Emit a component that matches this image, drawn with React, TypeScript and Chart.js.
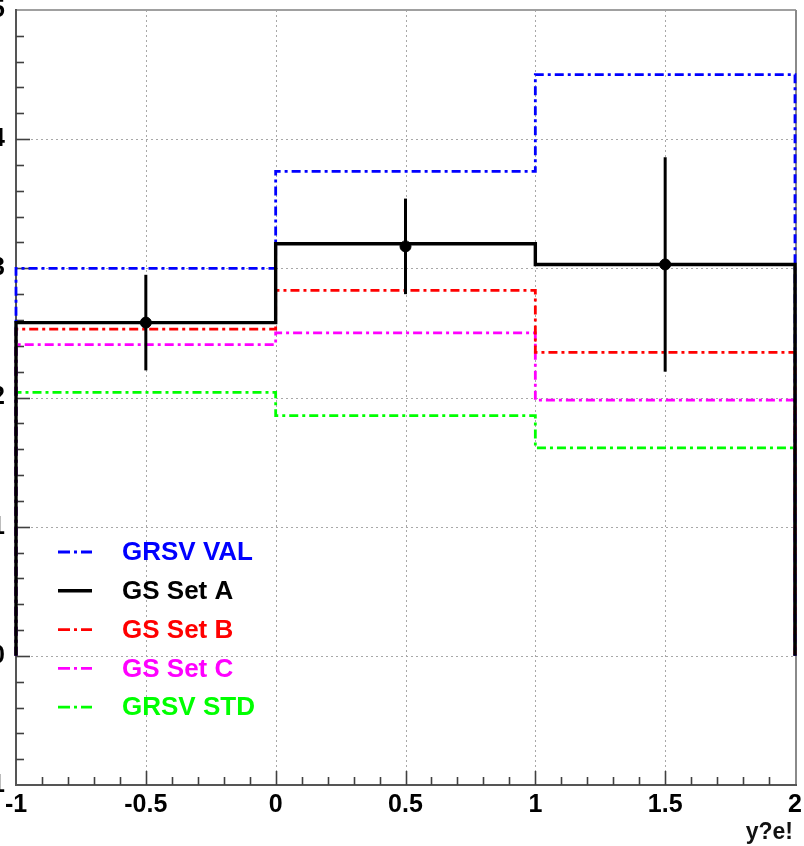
import { useEffect, useRef } from "react";
import { Chart, registerables } from "chart.js";

Chart.register(...registerables);

// Bin edges of the rapidity histograms and the values of each prediction
const binEdges = [-1, 0, 1, 2];
const grsvVal = [3.0, 3.75, 4.5];
const gsSetA = [2.58, 3.19, 3.03];
const gsSetB = [2.53, 2.83, 2.35];
const gsSetC = [2.41, 2.5, 1.98];
const grsvStd = [2.04, 1.86, 1.61];

// Measured points with symmetric errors
const dataX = [-0.5, 0.5, 1.5];
const dataY = [2.58, 3.17, 3.03];
const dataErr = [0.37, 0.37, 0.83];

// Axis ticks and titles
const xTickValues = [-1, -0.5, 0, 0.5, 1, 1.5, 2];
const yTickValues = [-1, 0, 1, 2, 3, 4, 5];
const xMinorStep = 0.1;
const yMinorStep = 0.2;
const xAxisTitle = "y?e!";

const seriesLabels = ["GRSV VAL", "GS Set A", "GS Set B", "GS Set C", "GRSV STD"];
const seriesValues = [grsvVal, gsSetA, gsSetB, gsSetC, grsvStd];

const seriesStyles = [
  { color: "#0000ff", dash: [9, 4, 3, 4], width: 2.8 },
  { color: "#000000", dash: [] as number[], width: 3.4 },
  { color: "#ff0000", dash: [9, 4, 3, 4], width: 2.8 },
  { color: "#ff00ff", dash: [9, 4, 3, 4], width: 2.8 },
  { color: "#00ff00", dash: [9, 4, 3, 4], width: 2.8 },
];

const FONT_FAMILY = "'Liberation Sans', Arial, Helvetica, sans-serif";

// Outline of a histogram: rises from zero at the first edge, steps across bins, drops to zero
function histogramOutline(values: number[]) {
  const pts: { x: number; y: number }[] = [{ x: binEdges[0], y: 0 }];
  values.forEach((v, i) => {
    pts.push({ x: binEdges[i], y: v });
    pts.push({ x: binEdges[i + 1], y: v });
  });
  pts.push({ x: binEdges[binEdges.length - 1], y: 0 });
  return pts;
}

// Frame, dotted grid and inward tick marks in the style of a physics plot
const framePlugin = {
  id: "frame",
  beforeDatasetsDraw(chart: any) {
    const { ctx, chartArea: a } = chart;
    const xs = chart.scales.x;
    const ys = chart.scales.y;
    const line = (x1: number, y1: number, x2: number, y2: number) => {
      ctx.beginPath();
      ctx.moveTo(x1, y1);
      ctx.lineTo(x2, y2);
      ctx.stroke();
    };
    ctx.save();
    ctx.strokeStyle = "#a8a8a8";
    ctx.lineWidth = 1;
    ctx.setLineDash([2, 3]);
    xTickValues.slice(1, -1).forEach((v) => {
      const px = Math.round(xs.getPixelForValue(v)) + 0.5;
      line(px, a.top, px, a.bottom);
    });
    yTickValues.slice(1, -1).forEach((v) => {
      const py = Math.round(ys.getPixelForValue(v)) + 0.5;
      line(a.left, py, a.right, py);
    });
    ctx.setLineDash([]);

    // top and right frame
    ctx.strokeStyle = "#a0a0a0";
    ctx.lineWidth = 2;
    line(a.left, a.top, a.right + 1, a.top);
    ctx.strokeStyle = "#8a8a8a";
    line(a.right + 1, a.top, a.right + 1, a.bottom);

    // left and bottom axes
    ctx.strokeStyle = "#555555";
    line(a.left, a.top - 1, a.left, a.bottom + 1);
    line(a.left - 1, a.bottom, a.right + 2, a.bottom);

    // tick marks
    ctx.strokeStyle = "#404040";
    ctx.lineWidth = 1.6;
    const nx = Math.round((xs.max - xs.min) / xMinorStep);
    for (let i = 1; i < nx; i++) {
      const px = Math.round(xs.getPixelForValue(xs.min + i * xMinorStep)) + 0.5;
      const len = i % 5 === 0 ? 14 : 8;
      line(px, a.bottom, px, a.bottom - len);
    }
    const ny = Math.round((ys.max - ys.min) / yMinorStep);
    for (let i = 1; i < ny; i++) {
      const py = Math.round(ys.getPixelForValue(ys.min + i * yMinorStep)) + 0.5;
      const len = i % 5 === 0 ? 14 : 8;
      line(a.left, py, a.left + len, py);
    }
    ctx.restore();
  },
  afterDatasetsDraw(chart: any) {
    const { ctx } = chart;
    const xs = chart.scales.x;
    const ys = chart.scales.y;
    ctx.save();
    ctx.strokeStyle = "#000";
    ctx.lineWidth = 3;
    dataX.forEach((xv, i) => {
      const px = xs.getPixelForValue(xv);
      ctx.beginPath();
      ctx.moveTo(px, ys.getPixelForValue(dataY[i] + dataErr[i]));
      ctx.lineTo(px, ys.getPixelForValue(dataY[i] - dataErr[i]));
      ctx.stroke();
    });
    ctx.restore();
  },
  afterDraw(chart: any) {
    const { ctx, chartArea: a } = chart;
    ctx.save();
    // legend in the lower-left corner of the frame
    const rowTop = 552;
    const rowStep = 38.8;
    const sampleX0 = a.left + 42;
    const sampleX1 = a.left + 76;
    const textX = a.left + 106;
    ctx.font = `bold 26px ${FONT_FAMILY}`;
    ctx.textBaseline = "middle";
    ctx.textAlign = "left";
    seriesLabels.forEach((label, i) => {
      const st = seriesStyles[i];
      const y = rowTop + i * rowStep;
      ctx.strokeStyle = st.color;
      ctx.lineWidth = st.width;
      ctx.setLineDash(st.dash.length ? [12, 4, 3, 4] : []);
      ctx.beginPath();
      ctx.moveTo(sampleX0, y);
      ctx.lineTo(sampleX1, y);
      ctx.stroke();
      ctx.setLineDash([]);
      ctx.fillStyle = st.color;
      ctx.fillText(label, textX, y + 1);
    });

    // x-axis title under the right end of the axis
    ctx.font = `bold 23px ${FONT_FAMILY}`;
    ctx.fillStyle = "#111";
    ctx.textAlign = "right";
    ctx.textBaseline = "alphabetic";
    ctx.fillText(xAxisTitle, a.right - 2, 839);
    ctx.restore();
  },
};

export default function App() {
  const canvasRef = useRef<HTMLCanvasElement | null>(null);

  useEffect(() => {
    const canvas = canvasRef.current;
    if (!canvas) return;

    const histDatasets = seriesLabels.map((label, i) => ({
      type: "line" as const,
      label,
      data: histogramOutline(seriesValues[i]),
      borderColor: seriesStyles[i].color,
      borderWidth: seriesStyles[i].width,
      borderDash: seriesStyles[i].dash,
      pointRadius: 0,
      fill: false,
      tension: 0,
      clip: 4,
      order: i === 1 ? 1 : 2 + i,
    }));

    const pointsDataset = {
      type: "scatter" as const,
      label: "data",
      data: dataX.map((x, i) => ({ x, y: dataY[i] })),
      backgroundColor: "#000",
      borderColor: "#000",
      pointRadius: 5.5,
      showLine: false,
      clip: 4,
      order: 0,
    };

    const tickFont = { family: FONT_FAMILY, size: 25, weight: "bold" as const };

    const chart = new Chart(canvas, {
      type: "line",
      data: { datasets: [pointsDataset as any, ...histDatasets] },
      options: {
        animation: false,
        responsive: true,
        maintainAspectRatio: false,
        layout: { padding: { left: 0, top: 10, right: 9, bottom: 0 } },
        plugins: {
          legend: { display: false },
          tooltip: { enabled: false },
        },
        scales: {
          x: {
            type: "linear",
            min: -1,
            max: 2,
            afterBuildTicks: (s: any) => {
              s.ticks = xTickValues.map((v) => ({ value: v }));
            },
            ticks: {
              font: tickFont,
              color: "#000",
              padding: 5,
              maxRotation: 0,
              autoSkip: false,
              callback: (v: any) => String(v),
            },
            grid: { display: false, drawTicks: false },
            border: { display: false },
            afterFit: (s: any) => {
              s.height = 61;
              s.paddingLeft = 0;
              s.paddingRight = 0;
            },
          },
          y: {
            type: "linear",
            min: -1,
            max: 5,
            afterBuildTicks: (s: any) => {
              s.ticks = yTickValues.map((v) => ({ value: v }));
            },
            ticks: {
              font: tickFont,
              color: "#000",
              padding: 11,
              autoSkip: false,
              callback: (v: any) => String(v),
            },
            grid: { display: false, drawTicks: false },
            border: { display: false },
            afterFit: (s: any) => {
              s.width = 56;
              s.paddingTop = 0;
              s.paddingBottom = 0;
            },
          },
        },
      },
      plugins: [framePlugin],
    });

    return () => chart.destroy();
  }, []);

  return (
    <div
      style={{
        position: "fixed",
        left: -40,
        top: 0,
        width: 844,
        height: 846,
        background: "#fff",
      }}
    >
      <canvas ref={canvasRef} />
    </div>
  );
}
